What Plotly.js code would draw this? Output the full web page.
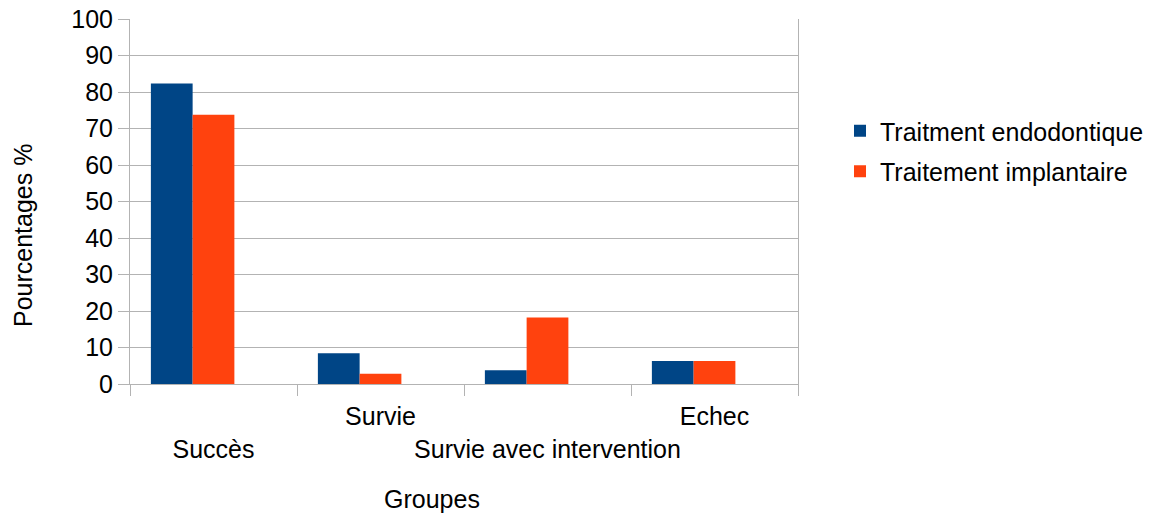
<!DOCTYPE html>
<html>
<head>
<meta charset="utf-8">
<script src="https://cdn.plot.ly/plotly-3.0.1.min.js"></script>
<style>html,body{margin:0;padding:0;background:#fff;}#chart{width:1157px;height:515px;}</style>
</head>
<body>
<div id="chart"></div>
<script>
var categories = ["Succès", "Survie", "Survie avec intervention", "Echec"];
var tickLabels = ["<br>Succès", "Survie", "<br>Survie avec intervention", "Echec"];
var endodontique = [82.3, 8.4, 3.8, 6.3];
var implantaire = [73.8, 2.8, 18.2, 6.3];
var seriesNames = ["Traitment endodontique", "Traitement implantaire"];

var FONT = "Liberation Sans, Arial, sans-serif";
var FS = 25;

var traces = [
  {type: "bar", x: categories, y: endodontique, name: seriesNames[0],
   marker: {color: "#004586", line: {width: 0}}, width: 0.25, offset: -0.375,
   legendgroup: "a", hoverinfo: "y"},
  {type: "bar", x: categories, y: implantaire, name: seriesNames[1],
   marker: {color: "#ff420e", line: {width: 0}}, width: 0.25, offset: -0.125,
   legendgroup: "b", hoverinfo: "y"}
];

var layout = {
  width: 1157, height: 515,
  margin: {l: 130, r: 359, t: 19, b: 131, autoexpand: false},
  paper_bgcolor: "#fff", plot_bgcolor: "#fff",
  barmode: "overlay",
  font: {family: FONT, size: FS, color: "#000"},
  showlegend: true,
  legend: {xref: "container", yref: "container",
           x: 840 / 1157, xanchor: "left", y: 1 - 108 / 515, yanchor: "top",
           font: {family: FONT, size: FS, color: "#000"},
           traceorder: "grouped", tracegroupgap: 5, bgcolor: "rgba(0,0,0,0)"},
  xaxis: {
    type: "category", range: [-0.5, 3.5],
    tickmode: "array", tickvals: categories, ticktext: tickLabels,
    tickson: "boundaries", ticks: "outside", ticklen: 11, tickcolor: "#b3b3b3", tickwidth: 1,
    ticklabelstandoff: 10,
    showline: true, linecolor: "#b3b3b3", linewidth: 1, showgrid: false, zeroline: false,
    tickfont: {family: FONT, size: FS, color: "#000"}, tickangle: 0, automargin: false
  },
  yaxis: {
    range: [0, 100], dtick: 10, tick0: 0, ticks: "outside", ticklen: 11, tickcolor: "#b3b3b3",
    showline: true, mirror: true, linecolor: "#b3b3b3", linewidth: 1,
    showgrid: true, gridcolor: "#b3b3b3", gridwidth: 1, zeroline: false,
    tickfont: {family: FONT, size: FS, color: "#000"}, automargin: false
  },
  annotations: [
    {text: "Pourcentages %", xref: "paper", yref: "paper", x: (23 - 130) / 668, y: (384 - 235) / 365,
     xanchor: "center", yanchor: "middle", textangle: -90, showarrow: false,
     font: {family: FONT, size: FS, color: "#000"}},
    {text: "Groupes", xref: "paper", yref: "paper", x: (432 - 130) / 668, y: (384 - 499) / 365,
     xanchor: "center", yanchor: "middle", showarrow: false,
     font: {family: FONT, size: FS, color: "#000"}}
  ]
};

Plotly.newPlot("chart", traces, layout, {displayModeBar: false, staticPlot: true});
</script>
</body>
</html>
